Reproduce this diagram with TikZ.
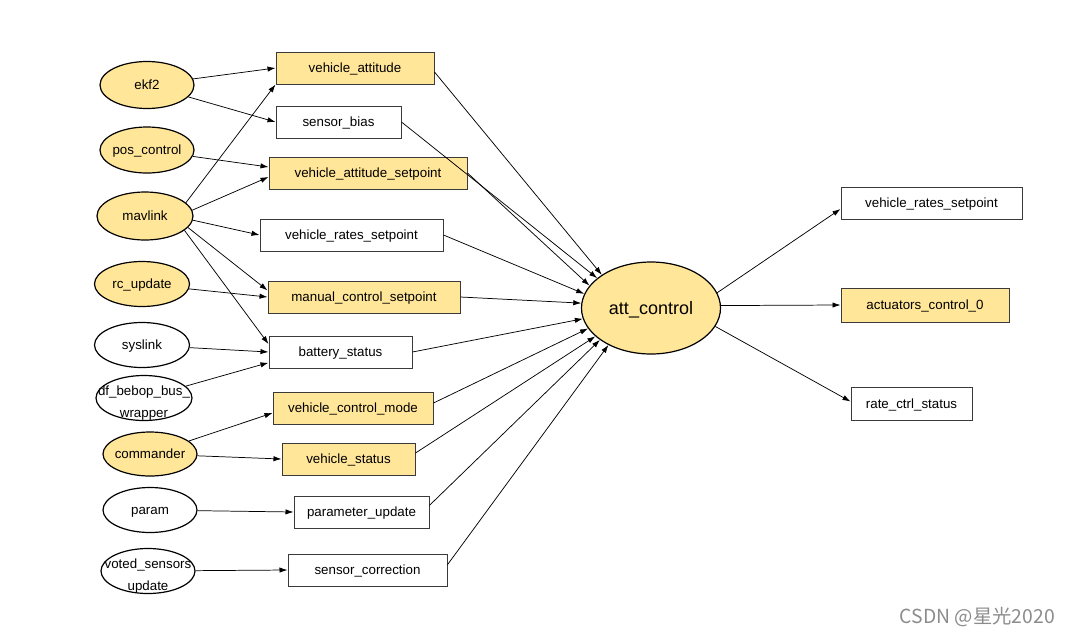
\documentclass[tikz,border=0pt]{standalone}
\usepackage{fontspec}
\setmainfont{Liberation Sans}
\newfontfamily\cjkwm{Noto Sans CJK SC}
\usetikzlibrary{shapes.geometric,arrows.meta}
\definecolor{topicfill}{HTML}{FFE699}
\definecolor{boxline}{HTML}{3A3A3A}
\definecolor{wmgray}{HTML}{8C8C8C}
\newcommand\ztxt[1]{\makebox[0pt]{\raisebox{-0.7ex}[0pt][0pt]{#1}}}
\newcommand\ztwo[2]{\makebox[0pt]{\raisebox{-6.25pt}[0pt][0pt]{\begin{tabular}{@{}c@{}}#1\\[4.5pt]#2\end{tabular}}}}
\tikzset{
  bw/.style={minimum width=#1*0.75pt},
  bh/.style={minimum height=#1*0.75pt},
  topic/.style={draw=boxline, line width=0.75pt, rectangle, inner sep=0pt, minimum height=24pt, text height=7.3pt, text depth=0pt, font=\fontsize{10}{12}\selectfont},
  hot/.style={fill=topicfill},
  proc/.style={draw=black, line width=0.9pt, ellipse, inner sep=0pt, font=\fontsize{10}{12}\selectfont},
  arr/.style={draw=black, line width=0.55pt, -{Latex[length=6pt,width=4pt]}}
}
\begin{document}
\begin{tikzpicture}[x=0.75pt,y=-0.75pt]
\fill[white] (0,0) rectangle (1070,636);
\useasboundingbox (0,0) rectangle (1070,636);

% processes (left)
\node[proc, hot, bw=94, bh=47] (ekf2)  at (147,85)  {\ztxt{ekf2}};
\node[proc, hot, bw=94, bh=46] (pos)   at (147,150) {\ztxt{pos\_control}};
\node[proc, hot, bw=96, bh=48] (mav)   at (145,216) {\ztxt{mavlink}};
\node[proc, hot, bw=95, bh=45] (rc)    at (142,284) {\ztxt{rc\_update}};
\node[proc, bw=95, bh=45]      (sys)   at (142,345) {\ztxt{syslink}};
\node[proc, bw=96, bh=45]      (df)    at (144,398) {\ztwo{df\_bebop\_bus\_}{wrapper}};
\node[proc, hot, bw=94, bh=44] (cmd)   at (150,454) {\ztxt{commander}};
\node[proc, bw=94, bh=45]      (param) at (150,510) {\ztxt{param}};
\node[proc, bw=94, bh=45]      (voted) at (148,571) {\ztwo{voted\_sensors}{update}};

% topics (middle)
\node[topic, hot, bw=158] (vatt) at (355,68)    {vehicle\_attitude};
\node[topic, bw=125]      (sb)   at (338.5,122) {sensor\_bias};
\node[topic, hot, bw=198] (vas)  at (368,173)   {vehicle\_attitude\_setpoint};
\node[topic, bw=183]      (vrs)  at (351.5,235) {vehicle\_rates\_setpoint};
\node[topic, hot, bw=192] (mcs)  at (364,297)   {manual\_control\_setpoint};
\node[topic, bw=143]      (bat)  at (340.5,352) {battery\_status};
\node[topic, hot, bw=160] (vcm)  at (353,408)   {vehicle\_control\_mode};
\node[topic, hot, bw=133] (vs)   at (348.5,459) {vehicle\_status};
\node[topic, bw=135]      (pu)   at (361.5,512) {parameter\_update};
\node[topic, bw=159]      (sc)   at (367.5,570) {sensor\_correction};

% central process
\node[proc, hot, bw=139, bh=92, font=\fontsize{13.5}{16}\selectfont] (att) at (651,308) {\ztxt{att\_control}};

% outputs (right)
\node[topic, bw=181]            (rvrs)  at (931.5,203) {vehicle\_rates\_setpoint};
\node[topic, hot, bw=168, bh=34] (ract) at (925,305)   {actuators\_control\_0};
\node[topic, bw=121, bh=33]     (rrate) at (911.5,403.5) {rate\_ctrl\_status};

% publishers -> topics
\draw[arr] (ekf2) -- (vatt.west);
\draw[arr] (ekf2) -- (sb.west);
\draw[arr] (pos) -- ([yshift=4.5pt]vas.west);
\draw[arr] (mav.18) -- (vatt.south west);
\draw[arr] (mav.7) -- ([yshift=-3pt]vas.west);
\draw[arr] (mav.-5) -- (vrs.west);
\draw[arr] (mav.-15) -- ([yshift=5pt]mcs.west);
\draw[arr] (mav.-20) -- ([yshift=6pt]bat.west);
\draw[arr] (rc) -- (mcs.west);
\draw[arr] (sys) -- (bat.west);
\draw[arr] (df) -- ([yshift=-8pt]bat.west);
\draw[arr] (cmd) -- ([yshift=-3.75pt]vcm.west);
\draw[arr] (cmd) -- (vs.west);
\draw[arr] (param) -- (pu.west);
\draw[arr] (voted) -- (sc.west);

% topics -> att_control
\draw[arr] ([yshift=-3pt]vatt.east) -- (att.146);
\draw[arr] (sb.east) -- (att.151.5);
\draw[arr] (vas.east) -- (att.160);
\draw[arr] (vrs.east) -- (att.168);
\draw[arr] (mcs.east) -- (att.176);
\draw[arr] (bat.east) -- (att.189);
\draw[arr] ([yshift=3.75pt]vcm.east) -- (att.198);
\draw[arr] ([yshift=4.5pt]vs.east) -- (att.207);
\draw[arr] ([yshift=5pt]pu.east) -- (att.212);
\draw[arr] ([yshift=4pt]sc.east) -- (att.221);

% att_control -> outputs
\draw[arr] (att.13) -- ([yshift=-4.5pt]rvrs.west);
\draw[arr] (att.2) -- (ract.west);
\draw[arr] (att.-16) -- ([yshift=1.5pt]rrate.west);

% watermark
\node[anchor=east, inner sep=0pt, text=wmgray, font=\cjkwm\fontsize{14.5}{17}\selectfont] (wm) at (1055,617) {CSDN @星光2020};
\end{tikzpicture}
\end{document}
